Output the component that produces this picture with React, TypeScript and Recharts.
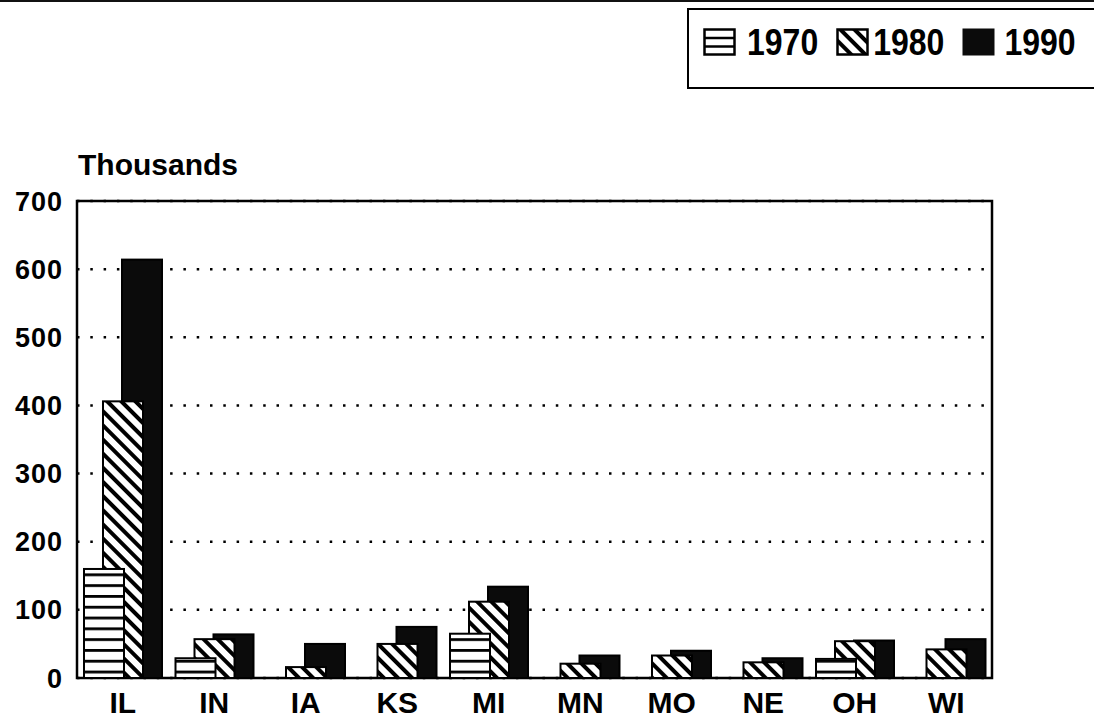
import React from "react"
import {
  BarChart,
  Bar,
  XAxis,
  YAxis,
  CartesianGrid,
  Legend,
  ReferenceArea,
} from "recharts"

const states = ["IL", "IN", "IA", "KS", "MI", "MN", "MO", "NE", "OH", "WI"]
const values1970 = [160, 29, 0, 0, 65, 0, 0, 0, 28, 0]
const values1980 = [406, 57, 16, 50, 112, 21, 33, 23, 54, 42]
const values1990 = [614, 64, 50, 75, 134, 33, 40, 29, 55, 57]
const yTicks = [0, 100, 200, 300, 400, 500, 600, 700]

const data = states.map((state, i) => ({
  state,
  y1970: values1970[i],
  y1980: values1980[i],
  y1990: values1990[i],
}))

const FONT = '"Liberation Sans", Arial, sans-serif'
const BAR_SIZE = 40
const BAR_GAP = -21
const STEP = BAR_SIZE + BAR_GAP

// bars are declared 1990 -> 1970 so 1970 paints on top; shift puts 1970 back on the left
const makeShape = (fill: string, shift: number) => (props: any) => {
  const { x, y, width, height } = props
  if (!height || height <= 0) return <g />
  return (
    <rect
      x={x + shift}
      y={y}
      width={width}
      height={height}
      fill={fill}
      stroke="#000"
      strokeWidth={2}
    />
  )
}

const legendItems = [
  { key: "1970", text: "1970", gap: 11 },
  { key: "1980", text: "1980", gap: 4 },
  { key: "1990", text: "1990", gap: 9 },
]

function LegendIcon({ kind }: { kind: string }) {
  return (
    <svg width={33} height={28} style={{ display: "block" }}>
      {kind === "1970" && (
        <g fill="none" stroke="#000" strokeWidth={2.5}>
          <rect x={1.5} y={1.5} width={30} height={25} fill="#fff" />
          <line x1={1.5} x2={31.5} y1={10} y2={10} />
          <line x1={1.5} x2={31.5} y1={18.5} y2={18.5} />
        </g>
      )}
      {kind === "1980" && (
        <rect x={1.5} y={1.5} width={30} height={25} fill="url(#diag)" stroke="#000" strokeWidth={2.5} />
      )}
      {kind === "1990" && <rect x={0.5} y={0.5} width={32} height={27} fill="#0b0b0b" />}
    </svg>
  )
}

const renderLegend = () => (
  <div
    style={{
      display: "flex",
      alignItems: "center",
      height: 63,
      paddingBottom: 14,
      border: "2px solid #000",
      paddingLeft: 14,
      boxSizing: "content-box",
    }}
  >
    {legendItems.map((item) => (
      <div key={item.key} style={{ display: "flex", alignItems: "center", marginRight: 18 }}>
        <LegendIcon kind={item.key} />
        <span
          style={{
            display: "inline-block",
            fontFamily: FONT,
            fontWeight: "bold",
            fontSize: 32,
            marginLeft: item.gap,
            color: "#000",
            lineHeight: 1,
            transform: "scaleY(1.15)",
          }}
        >
          {item.text}
        </span>
      </div>
    ))}
  </div>
)

export default function App() {
  return (
    <div style={{ position: "absolute", left: 0, top: 0, width: 1094, height: 720, background: "#fff", overflow: "hidden" }}>
      <div style={{ position: "absolute", left: 0, top: 0, width: 1094, height: 2, background: "#111" }} />
      <BarChart
        width={1094}
        height={720}
        data={data}
        margin={{ top: 201, right: 102, bottom: 0, left: 0 }}
        barSize={BAR_SIZE}
        barGap={BAR_GAP}
      >
        <defs>
          <pattern id="horiz" patternUnits="userSpaceOnUse" width={10} height={10.8} y={1}>
            <rect width={10} height={10.8} fill="#fff" />
            <rect width={10} height={2.8} fill="#000" />
          </pattern>
          <pattern id="diag" patternUnits="userSpaceOnUse" width={10} height={10} patternTransform="rotate(-45)">
            <rect width={10} height={10} fill="#fff" />
            <rect width={4} height={10} fill="#000" />
          </pattern>
        </defs>
        <CartesianGrid
          vertical={false}
          stroke="#000"
          strokeWidth={2.5}
          strokeDasharray="2.5 10.8"
        />
        <XAxis
          dataKey="state"
          height={42}
          axisLine={false}
          tickLine={false}
          tickSize={0}
          tickMargin={14}
          interval={0}
          tick={{ fill: "#000", fontSize: 30, fontFamily: FONT, fontWeight: "bold" }}
        />
        <YAxis
          width={77}
          domain={[0, 700]}
          ticks={yTicks}
          interval={0}
          axisLine={false}
          tickLine={false}
          tickSize={0}
          tickMargin={14}
          tick={{ fill: "#000", fontSize: 27, fontFamily: FONT, fontWeight: "bold", letterSpacing: 1 }}
          label={{
            value: "Thousands",
            content: ({ viewBox }: any) => (
              <text
                x={viewBox.x + viewBox.width + 1}
                y={viewBox.y - 26}
                fill="#000"
                fontSize={30}
                fontFamily={FONT}
                fontWeight="bold"
              >
                Thousands
              </text>
            ),
          }}
        />
        <Legend
          layout="vertical"
          align="center"
          verticalAlign="middle"
          content={renderLegend}
          wrapperStyle={{ position: "absolute", left: 687, top: 8, width: 440 }}
        />
        <Bar dataKey="y1990" name="1990" isAnimationActive={false} shape={makeShape("#0b0b0b", 2 * STEP)} />
        <Bar dataKey="y1980" name="1980" isAnimationActive={false} shape={makeShape("url(#diag)", 0)} />
        <Bar dataKey="y1970" name="1970" isAnimationActive={false} shape={makeShape("url(#horiz)", -2 * STEP)} />
        <ReferenceArea y1={0} y2={700} fill="none" stroke="#000" strokeWidth={2.5} ifOverflow="visible" />
      </BarChart>
    </div>
  )
}
